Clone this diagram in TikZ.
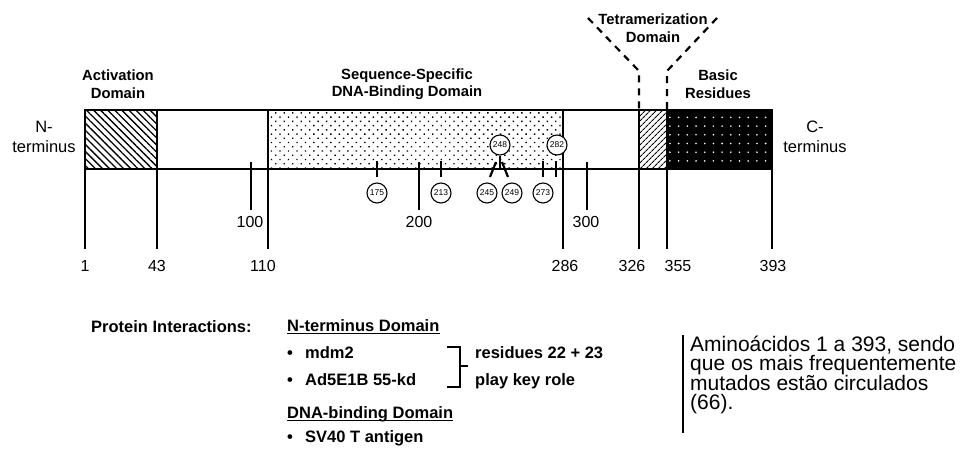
\documentclass[tikz,border=0pt]{standalone}
\usepackage{fontspec}
\setmainfont{Liberation Sans}
\usetikzlibrary{patterns.meta}
\tikzset{
  bar/.style={line width=2.6pt},
  tickmark/.style={line width=2.2pt},
  dashline/.style={line width=2.2pt, dash pattern=on 7pt off 6pt},
  hdr/.style={font=\fontsize{14.8}{17.5}\selectfont\bfseries, align=center, inner sep=0pt},
  term/.style={font=\fontsize{16.5}{20}\selectfont, align=center, inner sep=0pt},
  num/.style={font=\fontsize{16}{18}\selectfont, inner sep=0pt, anchor=base},
  mut/.style={circle, draw, fill=white, line width=1.1pt, minimum size=20pt, inner sep=0pt, font=\fontsize{8.5}{9}\selectfont},
  bt/.style={font=\fontsize{16.5}{18}\selectfont\bfseries, inner sep=0pt, anchor=base west},
  note/.style={font=\fontsize{21}{20}\selectfont, inner sep=0pt, anchor=base west}
}
\begin{document}
\begin{tikzpicture}[x=1pt,y=-1pt]
\useasboundingbox (0,0) rectangle (972,448);
% domain fills
\fill[pattern={Lines[angle=-45,distance=5pt,line width=1.3pt]}] (85,110) rectangle (157,169);
\fill[pattern={Dots[angle=45,distance=6pt,radius=1pt]}] (268,110) rectangle (563,169);
\fill[pattern={Lines[angle=45,distance=4pt,line width=1.1pt]}] (639,110) rectangle (667,169);
\fill[black] (667,110) rectangle (772,169);
\fill[pattern={Dots[distance=8.7pt,radius=0.9pt]}, pattern color=white] (667,110) rectangle (772,169);
% box and boundaries
\draw[bar] (85,110) rectangle (772,169);
\foreach \x in {85,157,268,563,639,667,772} \draw[bar] (\x,110) -- (\x,249);
\foreach \x in {251,419,587} \draw[bar] (\x,162) -- (\x,210);
% tetramerization dashes
\draw[dashline] (588,18) -- (639,71) -- (639,110);
\draw[dashline] (717,18) -- (667,71) -- (667,110);
% labels above
\node[hdr] (act) at (118,84) {Activation\\Domain};
\node[hdr] (dbd) at (407,84) {Sequence-Specific\\DNA-Binding Domain};
\node[hdr] (tet) at (653,28) {Tetramerization\\Domain};
\node[hdr] (bas) at (718,84) {Basic\\Residues};
\node[term] (nt) at (44,137) {N-\\terminus};
\node[term] (ct) at (815,137) {C-\\terminus};
% scale numbers
\node[num] (p100) at (250,227) {100};
\node[num] (p200) at (419,227) {200};
\node[num] (p300) at (586,227) {300};
\node[num] (b1) at (85,271) {1};
\node[num] (b43) at (157,271) {43};
\node[num] (b110) at (263,271) {110};
\node[num] (b286) at (565,271) {286};
\node[num] (b326) at (632,271) {326};
\node[num] (b355) at (678,271) {355};
\node[num] (b393) at (773,271) {393};
% mutation hot spots
\draw[tickmark] (377,161) -- (377,177);
\draw[tickmark] (441,161) -- (441,177);
\draw[tickmark] (490,177) -- (496,162);
\draw[tickmark] (500,156) -- (500,169);
\draw[tickmark] (502,162) -- (508,177);
\draw[tickmark] (543,161) -- (543,177);
\draw[tickmark] (556,161) -- (556,177);
\node[mut] (m175) at (377,193) {175};
\node[mut] (m213) at (441,193) {213};
\node[mut] (m245) at (487,193) {245};
\node[mut] (m249) at (512,193) {249};
\node[mut] (m273) at (543,193) {273};
\node[mut] (m248) at (500,145) {248};
\node[mut] (m282) at (557,145) {282};
% protein interactions
\node[bt] (pi) at (91,332) {Protein Interactions:};
\node[bt] (ntd) at (287,331) {N-terminus Domain};
\draw[line width=1.2pt] ([yshift=-2.5pt]ntd.base west) -- ([yshift=-2.5pt]ntd.base east);
\node[bt, anchor=base] (bu1) at (290,358) {•};
\node[bt] (mdm) at (305,358) {mdm2};
\node[bt, anchor=base] (bu2) at (290,385) {•};
\node[bt] (ad5) at (305,385) {Ad5E1B 55-kd};
\draw[line width=1.5pt] (447,347) -- (460,347) -- (460,387) -- (447,387);
\draw[line width=1.5pt] (460,366) -- (468,366);
\node[bt] (res1) at (475,358) {residues 22 + 23};
\node[bt] (res2) at (475,385) {play key role};
\node[bt] (dna) at (287,418) {DNA-binding Domain};
\draw[line width=1.2pt] ([yshift=-2.5pt]dna.base west) -- ([yshift=-2.5pt]dna.base east);
\node[bt, anchor=base] (bu3) at (290,442) {•};
\node[bt] (sv) at (305,442) {SV40 T antigen};
% note
\draw[line width=2pt] (683,335) -- (683,433);
\node[note] (l1) at (690,351) {Aminoácidos 1 a 393, sendo};
\node[note] (l2) at (690,370.5) {que os mais frequentemente};
\node[note] (l3) at (690,390) {mutados estão circulados};
\node[note] (l4) at (690,409.5) {(66).};
\end{tikzpicture}
\end{document}
